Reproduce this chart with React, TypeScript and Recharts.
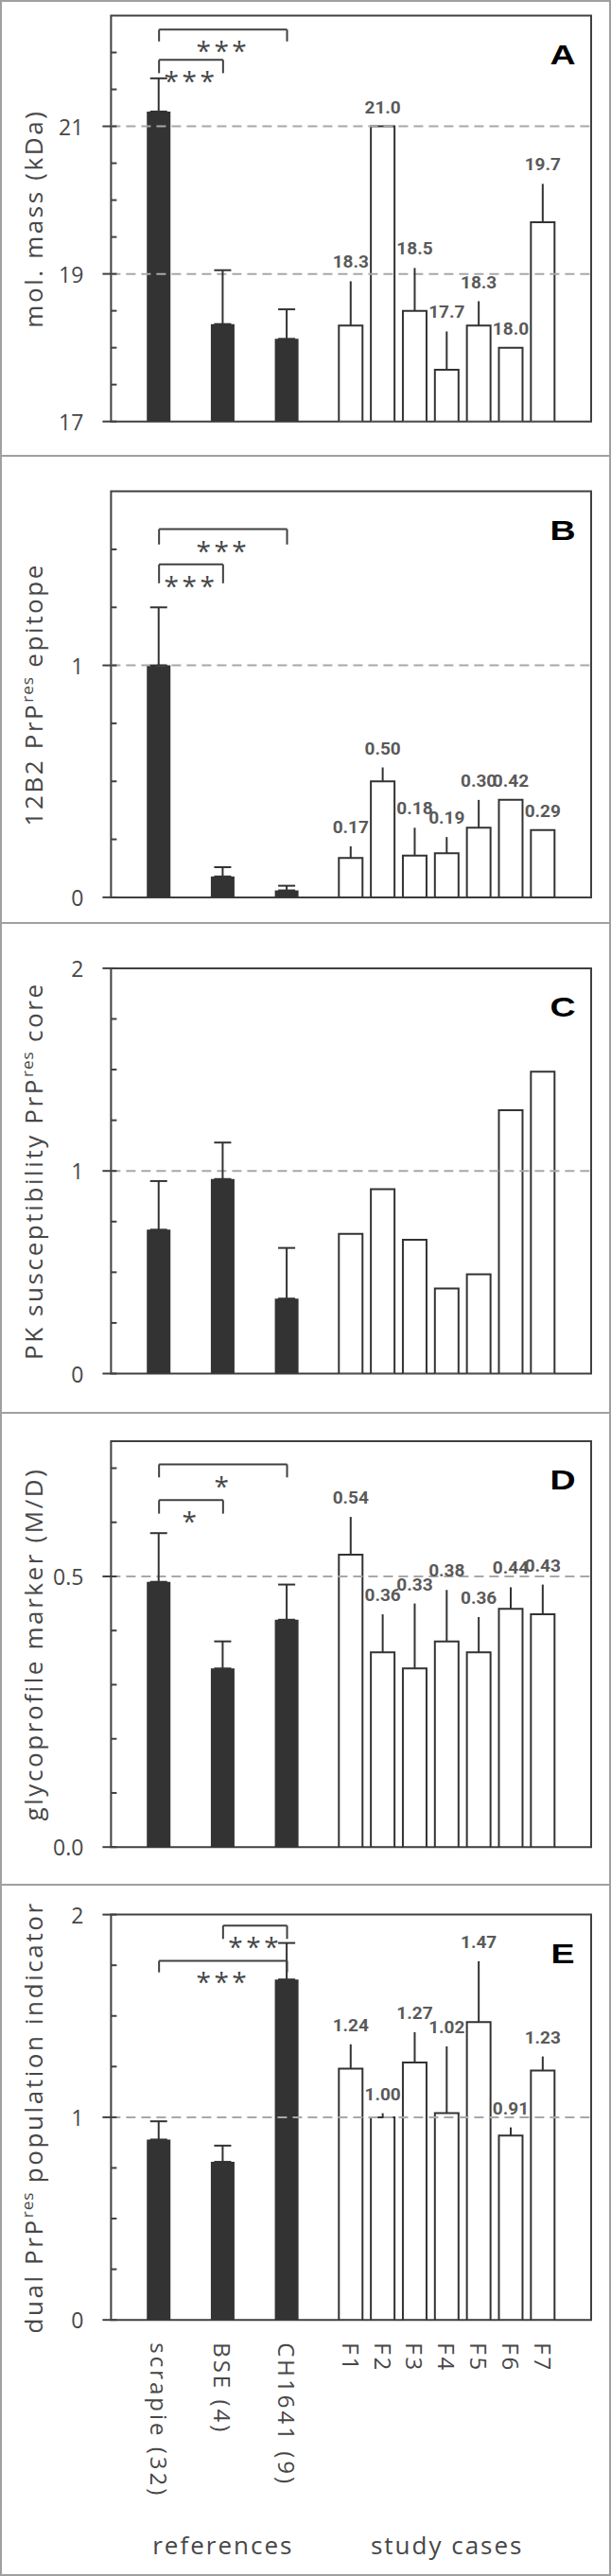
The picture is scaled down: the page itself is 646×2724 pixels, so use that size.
import React from 'react';
import { BarChart, Bar, Cell, XAxis, YAxis, ErrorBar, ReferenceLine, ReferenceArea, LabelList } from 'recharts';

// categories
const references = ['scrapie (32)', 'BSE (4)', 'CH1641 (9)'];
const studyCases = ['F1', 'F2', 'F3', 'F4', 'F5', 'F6', 'F7'];
const groupLabels = [
  { at: 'BSE (4)', text: 'references' },
  { at: 'F4', text: 'study cases' },
];

// A - molecular mass
const massRef = [21.2, 18.32, 18.12];
const massRefErr = [0.45, 0.73, 0.4];
const massCase = [18.3, 21.0, 18.5, 17.7, 18.3, 18.0, 19.7];
const massCaseErr = [0.6, null, 0.58, 0.52, 0.33, null, 0.52];
const massTicks = [17, 17.5, 18, 18.5, 19, 19.5, 20, 20.5, 21, 21.5, 22];
const massTickLabels = [17, 19, 21];

// B - 12B2 epitope
const epiRef = [1.0, 0.09, 0.03];
const epiRefErr = [0.25, 0.04, 0.02];
const epiCase = [0.17, 0.5, 0.18, 0.19, 0.3, 0.42, 0.29];
const epiCaseErr = [0.05, 0.06, 0.12, 0.07, 0.12, null, null];
const epiTicks = [0, 0.25, 0.5, 0.75, 1, 1.25, 1.5];
const epiTickLabels = [0, 1];

// C - PK susceptibility
const pkRef = [0.71, 0.96, 0.37];
const pkRefErr = [0.24, 0.18, 0.25];
const pkCase = [0.69, 0.91, 0.66, 0.42, 0.49, 1.3, 1.49];
const pkTicks = [0, 0.25, 0.5, 0.75, 1, 1.25, 1.5, 1.75, 2];
const pkTickLabels = [0, 1, 2];

// D - glycoprofile marker
const glyRef = [0.49, 0.33, 0.42];
const glyRefErr = [0.09, 0.05, 0.065];
const glyCase = [0.54, 0.36, 0.33, 0.38, 0.36, 0.44, 0.43];
const glyCaseErr = [0.07, 0.07, 0.12, 0.095, 0.065, 0.04, 0.055];
const glyTicks = [0, 0.1, 0.2, 0.3, 0.4, 0.5, 0.6, 0.7];
const glyTickLabels = [0, 0.5];

// E - dual population indicator
const dualRef = [0.89, 0.78, 1.68];
const dualRefErr = [0.09, 0.08, 0.18];
const dualCase = [1.24, 1.0, 1.27, 1.02, 1.47, 0.91, 1.23];
const dualCaseErr = [0.12, 0.02, 0.15, 0.33, 0.3, 0.04, 0.07];
const dualTicks = [0, 0.25, 0.5, 0.75, 1, 1.25, 1.5, 1.75, 2];
const dualTickLabels = [0, 1, 2];

const DARK = '#333333';
const AXIS = '#404040';
const TEXT = '#474747';
const GRID = '#a8a8a8';
const FONT = "'Open Sans', 'Noto Sans', sans-serif";

type Row = {
  name: string;
  value: number | null;
  kind: 'gap' | 'ref' | 'case';
  errRef: number[] | null;
  errCase: number[] | null;
  label: string | null;
};

function buildRows(refVals: number[], refErr: number[], caseVals: number[], caseErr: (number | null)[] | null, digits: number | null) {
  const rows: Row[] = [];
  const gap = () => rows.push({ name: `_${rows.length}`, value: null, kind: 'gap', errRef: null, errCase: null, label: null });
  references.forEach((name, i) => {
    gap();
    rows.push({ name, value: refVals[i], kind: 'ref', errRef: [0, refErr[i]], errCase: null, label: null });
  });
  gap();
  studyCases.forEach((name, i) => {
    const e = caseErr ? caseErr[i] : null;
    rows.push({
      name,
      value: caseVals[i],
      kind: 'case',
      errRef: null,
      errCase: e != null ? [0, e] : null,
      label: digits == null ? null : caseVals[i].toFixed(digits),
    });
  });
  gap();
  return rows;
}

const panels = [
  {
    letter: 'A', top: 0, height: 482, margin: { top: 16.5, bottom: 36.3 },
    title: [{ t: 'mol. mass (kDa)' }],
    domain: [17, 22.5], ticks: massTicks, tickLabels: massTickLabels, tickDigits: 0,
    rows: buildRows(massRef, massRefErr, massCase, massCaseErr, 1),
    dashed: [19, 21],
    brackets: [
      { from: 'scrapie (32)', to: 'CH1641 (9)', y: 22.31, end: 22.15, stars: '***' },
      { from: 'scrapie (32)', to: 'BSE (4)', y: 21.9, end: 21.72, stars: '***' },
    ],
  },
  {
    letter: 'B', top: 482, height: 494, margin: { top: 37.6, bottom: 27.1 },
    title: [{ t: '12B2 PrP' }, { t: 'res', sup: true }, { t: ' epitope' }],
    domain: [0, 1.75], ticks: epiTicks, tickLabels: epiTickLabels, tickDigits: 0,
    rows: buildRows(epiRef, epiRefErr, epiCase, epiCaseErr, 2),
    dashed: [1],
    brackets: [
      { from: 'scrapie (32)', to: 'CH1641 (9)', y: 1.587, end: 1.521, stars: '***' },
      { from: 'scrapie (32)', to: 'BSE (4)', y: 1.435, end: 1.354, stars: '***' },
    ],
  },
  {
    letter: 'C', top: 976, height: 518, margin: { top: 47.9, bottom: 41.5 },
    title: [{ t: 'PK susceptibility PrP' }, { t: 'res', sup: true }, { t: ' core' }],
    domain: [0, 2], ticks: pkTicks, tickLabels: pkTickLabels, tickDigits: 0,
    rows: buildRows(pkRef, pkRefErr, pkCase, null, null),
    dashed: [1],
    brackets: [],
  },
  {
    letter: 'D', top: 1494, height: 499, margin: { top: 29.9, bottom: 39.8 },
    title: [{ t: 'glycoprofile marker (M/D)' }],
    domain: [0, 0.75], ticks: glyTicks, tickLabels: glyTickLabels, tickDigits: 1,
    rows: buildRows(glyRef, glyRefErr, glyCase, glyCaseErr, 2),
    dashed: [0.5],
    brackets: [
      { from: 'scrapie (32)', to: 'CH1641 (9)', y: 0.707, end: 0.683, stars: '*' },
      { from: 'scrapie (32)', to: 'BSE (4)', y: 0.641, end: 0.616, stars: '*' },
    ],
  },
  {
    letter: 'E', top: 1993, height: 731, margin: { top: 31.6, bottom: 10.8 },
    title: [{ t: 'dual PrP' }, { t: 'res', sup: true }, { t: ' population indicator' }],
    domain: [0, 2], ticks: dualTicks, tickLabels: dualTickLabels, tickDigits: 0,
    rows: buildRows(dualRef, dualRefErr, dualCase, dualCaseErr, 2),
    dashed: [1],
    brackets: [
      { from: 'BSE (4)', to: 'CH1641 (9)', y: 1.946, end: 1.88, stars: '***' },
      { from: 'scrapie (32)', to: 'CH1641 (9)', y: 1.772, end: 1.715, stars: '***' },
    ],
    showX: true,
  },
];

const YTick = ({ x, y, payload, labels, digits }: any) => {
  const major = labels.includes(payload.value);
  return (
    <g>
      <line x1={major ? x - 9 : x} x2={x + 6} y1={y} y2={y} stroke={AXIS} strokeWidth={2} />
      {major && (
        <text x={x - 29} y={y} textAnchor="end" dominantBaseline="central" fill={TEXT} fontSize={23} fontFamily={FONT}>
          {payload.value.toFixed(digits)}
        </text>
      )}
    </g>
  );
};

const XTick = ({ x, y, payload }: any) => {
  const name: string = payload.value;
  if (name.startsWith('_')) return <g />;
  const group = groupLabels.find((g) => g.at === name);
  return (
    <g>
      <text x={x} y={y + 24} transform={`rotate(90 ${x} ${y + 24})`} dominantBaseline="central" fill={TEXT} fontSize={24} letterSpacing={3} fontFamily={FONT}>
        {name}
      </text>
      {group && (
        <text x={x} y={y + 248} textAnchor="middle" fill={TEXT} fontSize={26} letterSpacing={2} fontFamily={FONT}>
          {group.text}
        </text>
      )}
    </g>
  );
};

function Panel({ cfg }: { cfg: any }) {
  const rows: Row[] = cfg.rows;
  const min = cfg.domain[0];

  const caseLabel = (p: any) => {
    const row = rows.find((r) => r.name === p.value);
    if (!row || !row.label || row.value == null) return null;
    const vb = p.viewBox && p.viewBox.width != null ? p.viewBox : p;
    const unit = vb.height / (row.value - min);
    const top = vb.y - (row.errCase ? row.errCase[1] * unit : 0);
    return (
      <text key={row.name} x={vb.x + vb.width / 2} y={top - 14} textAnchor="middle" fill="#5a5a5a" fontSize={19} fontWeight={700} fontFamily="'Liberation Sans Narrow', 'Roboto', sans-serif">
        {row.label}
      </text>
    );
  };

  const title = (p: any) => {
    const vb = p.viewBox;
    const tx = vb.x + vb.width - 72;
    const cy = vb.y + vb.height / 2;
    return (
      <text x={tx} y={cy} transform={`rotate(-90 ${tx} ${cy})`} textAnchor="middle" fill={TEXT} fontSize={26} letterSpacing={2.6} fontFamily={FONT}>
        {cfg.title.map((s: any, i: number) => (
          <tspan key={i} dy={s.sup ? -10 : i > 0 && cfg.title[i - 1].sup ? 10 : 0} fontSize={s.sup ? 17 : 26} letterSpacing={s.sup ? 1 : 2.6}>
            {s.t}
          </tspan>
        ))}
      </text>
    );
  };

  const letter = (p: any) => {
    const vb = p.viewBox;
    const lx = vb.x + vb.width - 30;
    const ly = vb.y + 51;
    return (
      <text transform={`translate(${lx} ${ly}) scale(1.25 1)`} x={0} y={0} textAnchor="middle" fill="#000" fontSize={30} fontWeight={700} fontFamily="'Liberation Sans', Arial, sans-serif">
        {cfg.letter}
      </text>
    );
  };

  const stars = (text: string) => (p: any) => {
    const vb = p.viewBox;
    return (
      <text x={vb.x + vb.width / 2} y={vb.y + 33} textAnchor="middle" fill={TEXT} fontSize={28} letterSpacing={3.5} fontFamily={FONT}>
        {text}
      </text>
    );
  };

  return (
    <div style={{ position: 'absolute', left: 0, top: cfg.top }}>
      <BarChart
        width={646}
        height={cfg.height}
        data={rows}
        margin={{ top: cfg.margin.top, right: 21, bottom: cfg.margin.bottom, left: 0 }}
        barSize={25}
      >
        {cfg.showX ? (
          <XAxis dataKey="name" interval={0} tick={<XTick />} tickLine={false} axisLine={false} tickSize={0} tickMargin={0} height={260} />
        ) : (
          <XAxis dataKey="name" hide />
        )}
        <YAxis
          type="number"
          domain={cfg.domain}
          ticks={cfg.ticks}
          interval={0}
          allowDataOverflow
          width={117.4}
          axisLine={false}
          tickLine={false}
          tickSize={0}
          tickMargin={0}
          tick={(p: any) => <YTick {...p} labels={cfg.tickLabels} digits={cfg.tickDigits} />}
          label={title}
        />
        {cfg.dashed.map((v: number) => (
          <ReferenceLine key={v} y={v} stroke={GRID} strokeWidth={2} strokeDasharray="10 6" />
        ))}
        <Bar dataKey="value" isAnimationActive={false}>
          {rows.map((r, i) => (
            <Cell key={i} fill={r.kind === 'case' ? '#ffffff' : DARK} stroke={r.kind === 'case' ? DARK : 'none'} strokeWidth={2} />
          ))}
          <ErrorBar dataKey="errRef" width={9} stroke={DARK} strokeWidth={2} />
          <ErrorBar dataKey="errCase" width={0} stroke={DARK} strokeWidth={2} />
          <LabelList dataKey="name" content={caseLabel} />
        </Bar>
        {cfg.brackets.map((b: any, i: number) => (
          <React.Fragment key={i}>
            <ReferenceLine segment={[{ x: b.from, y: b.y }, { x: b.to, y: b.y }]} stroke={AXIS} strokeWidth={2} label={stars(b.stars)} />
            <ReferenceLine segment={[{ x: b.from, y: b.y }, { x: b.from, y: b.end }]} stroke={AXIS} strokeWidth={2} />
            <ReferenceLine segment={[{ x: b.to, y: b.y }, { x: b.to, y: b.end }]} stroke={AXIS} strokeWidth={2} />
          </React.Fragment>
        ))}
        <ReferenceArea y1={cfg.domain[0]} y2={cfg.domain[1]} fill="none" fillOpacity={0} stroke={AXIS} strokeWidth={2} ifOverflow="visible" label={letter} />
      </BarChart>
    </div>
  );
}

export default function App() {
  return (
    <div style={{ position: 'relative', width: 646, height: 2724, background: '#fff', overflow: 'hidden' }}>
      <style>{'body{margin:0}'}</style>
      {panels.map((cfg) => (
        <Panel key={cfg.letter} cfg={cfg} />
      ))}
      {panels.slice(1).map((cfg) => (
        <div key={cfg.letter} style={{ position: 'absolute', left: 0, width: 646, top: cfg.top - 1, height: 2, background: '#a0a0a0' }} />
      ))}
      <div style={{ position: 'absolute', left: 0, top: 0, width: 646, height: 2724, boxSizing: 'border-box', border: '2px solid #a0a0a0', pointerEvents: 'none' }} />
    </div>
  );
}
